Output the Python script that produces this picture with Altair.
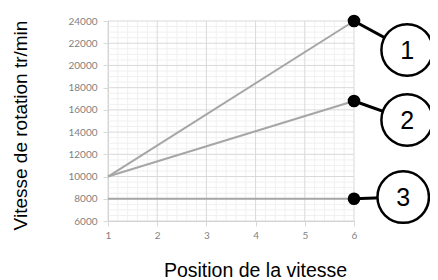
import altair as alt
import pandas as pd

positions = [1, 6]
series1 = [10000, 24000]
series2 = [10000, 16800]
series3 = [8000, 8000]

labels = ["1", "2", "3"]
ann_x = [7.08, 7.08, 7.0]
ann_y = [21400, 15100, 8150]
end_y = [series1[-1], series2[-1], series3[-1]]

x_major = [1, 2, 3, 4, 5, 6]
y_major = [6000, 8000, 10000, 12000, 14000, 16000, 18000, 20000, 22000, 24000]
x_minor = [1.2, 1.4, 1.6, 1.8, 2.2, 2.4, 2.6, 2.8, 3.2, 3.4, 3.6, 3.8,
           4.2, 4.4, 4.6, 4.8, 5.2, 5.4, 5.6, 5.8]
y_minor = [6500, 7000, 7500, 8500, 9000, 9500, 10500, 11000, 11500, 12500, 13000, 13500,
           14500, 15000, 15500, 16500, 17000, 17500, 18500, 19000, 19500, 20500, 21000,
           21500, 22500, 23000, 23500]

rows = []
for name, vals in zip(labels, [series1, series2, series3]):
    for p, v in zip(positions, vals):
        rows.append({"s": name, "x": p, "y": v})
lines_df = pd.DataFrame(rows)

ends_df = pd.DataFrame({"s": labels, "x": [positions[-1]] * 3, "y": end_y,
                        "ax": ann_x, "ay": ann_y})

conn_rows = []
for s, ey, ax, ay in zip(labels, end_y, ann_x, ann_y):
    conn_rows.append({"s": s, "x": positions[-1], "y": ey, "o": 0})
    conn_rows.append({"s": s, "x": ax, "y": ay, "o": 1})
conn_df = pd.DataFrame(conn_rows)

xscale = alt.Scale(domain=[1, 6], nice=False, zero=False)
yscale = alt.Scale(domain=[6000, 24000], nice=False, zero=False)

xaxis = alt.Axis(
    values=x_major, title="Position de la vitesse", format="d", grid=False,
    labelOverlap=False, labelFlush=False,
    tickColor="#d9d9d9", tickSize=5, labelPadding=4,
    domainColor="#cccccc", labelColor="#7f7f7f", labelFont="Lato", labelFontSize=10,
    titleFont="Liberation Sans", titleFontSize=19.5, titleFontWeight="normal", titleColor="#000000",
    titleX=147, titleY=55, titleBaseline="alphabetic",
)
yaxis = alt.Axis(
    values=y_major, title="Vitesse de rotation tr/min", format="d", grid=False,
    labelOverlap=False,
    tickColor="#d9d9d9", tickSize=5, labelPadding=6,
    domainColor="#cccccc", labelColor="#7f7f7f", labelFont="Lato", labelFontSize=10,
    titleFont="Liberation Sans", titleFontSize=19, titleFontWeight="normal", titleColor="#000000",
    titleX=-88, titleY=104, titleBaseline="middle",
)

def X(f):
    return alt.X(f, scale=xscale, axis=xaxis)

def Y(f):
    return alt.Y(f, scale=yscale, axis=yaxis)

minor_v = alt.Chart(pd.DataFrame({"gx": x_minor})).mark_rule(color="#f0f0f0", strokeWidth=1).encode(
    x=X("gx:Q"))
minor_h = alt.Chart(pd.DataFrame({"gy": y_minor})).mark_rule(color="#f0f0f0", strokeWidth=1).encode(
    y=Y("gy:Q"))
major_v = alt.Chart(pd.DataFrame({"gx": x_major})).mark_rule(color="#d9d9d9", strokeWidth=1).encode(
    x=X("gx:Q"))
major_h = alt.Chart(pd.DataFrame({"gy": y_major})).mark_rule(color="#d9d9d9", strokeWidth=1).encode(
    y=Y("gy:Q"))

lines = alt.Chart(lines_df).mark_line(color="#a6a6a6", strokeWidth=2).encode(
    x=X("x:Q"), y=Y("y:Q"), detail="s:N",
)

conns = alt.Chart(conn_df).mark_line(color="#000000", strokeWidth=3).encode(
    x=X("x:Q"), y=Y("y:Q"), detail="s:N", order="o:Q",
)

dots = alt.Chart(ends_df).mark_point(shape="circle", filled=True, color="#000000", size=160, opacity=1).encode(
    x=X("x:Q"), y=Y("y:Q"),
)

circles = alt.Chart(ends_df).mark_point(shape="circle", filled=False, fill="#ffffff", fillOpacity=1,
                                        stroke="#000000", strokeWidth=2.5, size=2650, opacity=1).encode(
    x=X("ax:Q"), y=Y("ay:Q"),
)

nums = alt.Chart(ends_df).mark_text(font="Liberation Sans", fontSize=25, color="#000000",
                                    baseline="middle", align="center", dy=1).encode(
    x=X("ax:Q"), y=Y("ay:Q"), text="s:N",
)

chart = alt.layer(minor_v, minor_h, major_v, major_h, lines, conns, dots, circles, nums).properties(
    width=246, height=200,
    autosize=alt.AutoSizeParams(type="none"),
    padding={"left": 100, "top": 13, "right": 76, "bottom": 59},
).configure_view(stroke=None).configure_axis(domainWidth=1)

chart.save("out.html", embed_options={"renderer": "svg", "actions": False})
